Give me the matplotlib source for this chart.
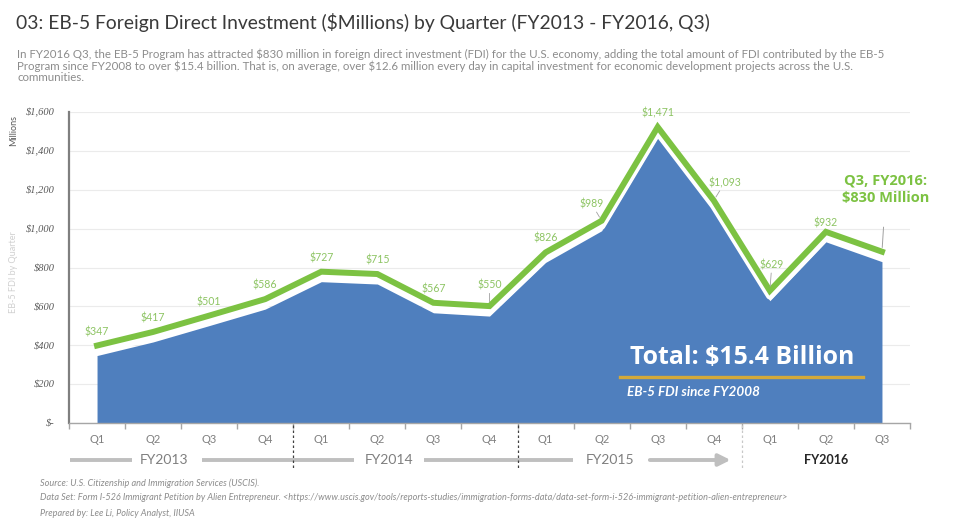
import matplotlib
matplotlib.use('Agg')
import matplotlib.pyplot as plt
from matplotlib import transforms

# ---------------- data ----------------
quarters = ['Q1', 'Q2', 'Q3', 'Q4', 'Q1', 'Q2', 'Q3', 'Q4',
            'Q1', 'Q2', 'Q3', 'Q4', 'Q1', 'Q2', 'Q3']
fdi_millions = [347, 417, 501, 586, 727, 715, 567, 550,
                826, 989, 1471, 1093, 629, 932, 830]
fiscal_years = ['FY2013', 'FY2014', 'FY2015', 'FY2016']
y_ticks = [0, 200, 400, 600, 800, 1000, 1200, 1400, 1600]
y_tick_labels = ['$-', '$200', '$400', '$600', '$800', '$1,000', '$1,200', '$1,400', '$1,600']

title = "03: EB-5 Foreign Direct Investment ($Millions) by Quarter (FY2013 - FY2016, Q3)"
subtitle = ["In FY2016 Q3, the EB-5 Program has attracted $830 million in foreign direct investment (FDI) for the U.S. economy, adding the total amount of FDI contributed by the EB-5",
            "Program since FY2008 to over $15.4 billion. That is, on average, over $12.6 million every day in capital investment for economic development projects across the U.S.",
            "communities."]
footer = ["Source: U.S. Citizenship and Immigration Services (USCIS).",
          "Data Set: Form I-526 Immigrant Petition by Alien Entrepreneur. <https://www.uscis.gov/tools/reports-studies/immigration-forms-data/data-set-form-i-526-immigrant-petition-alien-entrepreneur>",
          "Prepared by: Lee Li, Policy Analyst, IIUSA"]
total_text = "Total: $15.4 Billion"
total_sub = "EB-5 FDI since FY2008"
latest_text = "Q3, FY2016:\n$830 Million"

# ---------------- style ----------------
W, H = 968, 526
BLUE = '#4F7FBE'
GREEN = '#7CC242'
LGREEN = '#8DC463'
GREY = '#7F7F7F'
FONT = 'Lato'
plt.rcParams['text.parse_math'] = False

fig = plt.figure(figsize=(W / 100, H / 100), dpi=100)
ax = fig.add_axes([69 / W, 1 - 423 / H, (910 - 69) / W, (423 - 112) / H])


def fx(p):
    return p / W


def fy(p):
    return 1 - p / H


x = list(range(len(fdi_millions)))
ax.fill_between(x, fdi_millions, 0, color=BLUE, lw=0, zorder=2)
white_tr = transforms.offset_copy(ax.transData, fig=fig, x=0, y=5, units='dots')
green_tr = transforms.offset_copy(ax.transData, fig=fig, x=0, y=10, units='dots')
ax.plot(x, fdi_millions, color='white', lw=5.5, transform=white_tr, zorder=3)
ax.plot(x, fdi_millions, color=GREEN, lw=4.3, transform=green_tr, zorder=4,
        solid_joinstyle='miter')

ax.set_xlim(-0.5, len(x) - 0.5)
ax.set_ylim(0, 1600)
ax.set_yticks(y_ticks, y_tick_labels)
for lab in ax.get_yticklabels():
    lab.set_fontstyle('italic')
    lab.set_family('Liberation Serif')
    lab.set_fontsize(7.5)
    lab.set_color('#595959')
ax.tick_params(axis='y', length=0, pad=10)
ax.grid(axis='y', color='#EBEBEB', lw=0.8, zorder=0)
ax.set_axisbelow(True)
for s in ['top', 'right']:
    ax.spines[s].set_visible(False)
ax.spines['left'].set_color('#7F7F7F')
ax.spines['left'].set_linewidth(1.6)
ax.spines['bottom'].set_color('#A6A6A6')
ax.spines['bottom'].set_linewidth(1.0)
ax.set_xticks(x, quarters)
ax.tick_params(axis='x', length=0, pad=8, labelcolor=GREY, labelsize=8)
for lab in ax.get_xticklabels():
    lab.set_family(FONT)
ax.set_xticks([i - 0.5 for i in range(len(x) + 1)], minor=True)
ax.tick_params(axis='x', which='minor', length=4, color='#A6A6A6', width=1)

# data labels
label_offsets = {7: (0, 21, True), 9: (-10, 17, True), 11: (11, 18, True),
                 12: (2, 26, True), 13: (0, 9, False), 14: None}
for i, v in enumerate(fdi_millions):
    off = label_offsets.get(i, (0, 14, False))
    if off is None:
        continue
    dx, dy, lead = off
    kw = {}
    if lead:
        kw['arrowprops'] = dict(arrowstyle='-', color='#A0A0A0', lw=0.6,
                                shrinkA=0, shrinkB=3)
    ax.annotate(f"${v:,}", xy=(i, v), xycoords=green_tr, xytext=(dx, dy),
                textcoords='offset pixels', ha='center', va='center',
                fontsize=7.6, color=LGREEN, family=FONT, zorder=6, **kw)

# latest quarter callout
ax.annotate(latest_text, xy=(len(x) - 1, fdi_millions[-1]), xycoords=green_tr,
            xytext=(fx(886), fy(189)), textcoords='figure fraction',
            ha='center', va='center', fontsize=10.5, fontweight='bold',
            color=GREEN, family='Open Sans', linespacing=1.35, zorder=6,
            arrowprops=dict(arrowstyle='-', color='#A0A0A0', lw=0.7,
                            shrinkA=14, shrinkB=3))

# total annotation
t_total = fig.text(fx(742), fy(358), total_text, ha='center', va='center',
                   color='white', fontsize=17, fontweight='bold', family='Open Sans')
fig.add_artist(plt.Line2D([fx(620), fx(863)], [fy(377), fy(377)],
                          color='#D4A93A', lw=2.4))
t_tsub = fig.text(fx(627), fy(392), total_sub, ha='left', va='center', color='white',
                  fontsize=8.5, fontstyle='italic', fontweight='bold', family=FONT)

# fiscal year band under axis
blend = transforms.blended_transform_factory(ax.transData, fig.transFigure)
yb = fy(460)
for xs in [(-0.48, 0.62), (1.87, 4.59), (5.84, 8.49)]:
    ax.plot(xs, [yb, yb], transform=blend, clip_on=False, color='#BFBFBF',
            lw=2.8, solid_capstyle='butt')
ax.annotate('', xy=(11.3, yb), xycoords=blend, xytext=(9.86, yb), textcoords=blend,
            arrowprops=dict(arrowstyle='-|>,head_length=0.7,head_width=0.35',
                            color='#BFBFBF', lw=2.8, shrinkA=0, shrinkB=0))
fy_pos = [1.2, 5.2, 9.15, 13.0]
for k, (name, p) in enumerate(zip(fiscal_years, fy_pos)):
    last = k == len(fiscal_years) - 1
    ax.text(p, yb, name, transform=blend, ha='center', va='center',
            fontsize=9 if last else 10, fontweight='bold' if last else 'normal',
            color='#262626' if last else GREY, family=FONT)
for b, c in [(3.5, '#404040'), (7.5, '#404040'), (11.5, '#C8C8C8')]:
    ax.plot([b, b], [fy(425), fy(468)], transform=blend, clip_on=False,
            color=c, lw=0.9, ls=(0, (2, 2)))

# axis titles
fig.text(fx(14), fy(130), 'Millions', rotation=90, ha='center', va='center',
         fontsize=6.5, color='#595959', family=FONT)
fig.text(fx(14), fy(272), 'EB-5 FDI by Quarter', rotation=90, ha='center',
         va='center', fontsize=6.5, color='#D0D0D0', family=FONT)

# header
t_title = fig.text(fx(16), fy(22), title, ha='left', va='center', fontsize=14,
                   color='#3A3A3A', family=FONT)
SUB_LS = 1.0
t_sub = fig.text(fx(17), fy(49), "\n".join(subtitle), ha='left', va='top',
                 fontsize=7, color='#8C8C8C', family=FONT, linespacing=SUB_LS)
foot_y = [483, 498, 513]
t_foot = [fig.text(fx(40), fy(yy), s, ha='left', va='center', fontsize=5.5,
                   color='#8C8C8C', family=FONT, fontstyle='italic')
          for s, yy in zip(footer, foot_y)]

# fit widths
fig.canvas.draw()
r = fig.canvas.get_renderer()


def fit(t, target, others=()):
    w = t.get_window_extent(r).width
    f = t.get_fontsize() * target / w
    t.set_fontsize(f)
    for o in others:
        o.set_fontsize(f)


fit(t_title, 712 - 16)
fit(t_sub, 880 - 17)
fit(t_foot[1], 780 - 40, [t_foot[0], t_foot[2]])
fit(t_total, 855 - 630)
fit(t_tsub, 760 - 627)

# set subtitle line pitch to ~11 px
fig.canvas.draw()
h3 = t_sub.get_window_extent(r).height
one = fig.text(0, 0, subtitle[0], fontsize=t_sub.get_fontsize(), family=FONT)
fig.canvas.draw()
h1 = one.get_window_extent(r).height
one.remove()
pitch = (h3 - h1) / 2
t_sub.set_linespacing(SUB_LS * 11.0 / pitch)

fig.savefig('out.png', dpi=100)
